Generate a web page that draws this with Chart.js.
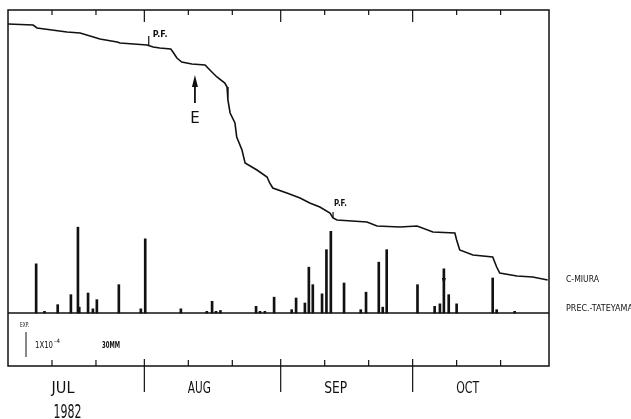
<!DOCTYPE html>
<html lang="en">
<head>
<meta charset="UTF-8">
<title>C-MIURA / PREC.-TATEYAMA 1982</title>
<script src="https://cdn.jsdelivr.net/npm/chart.js"></script>
<style>
    body { margin: 0; background: #fff; }
    canvas { display: block; }
</style>
</head>
<body>
<canvas id="grafico" width="631" height="419"></canvas>
<script>
    // days counted from the start of 1 Jul 1982
    var diasCurva = [0, 5.7, 6.6, 13.4, 16.4, 20.9, 24.8, 25.5, 31.6, 33.0, 34.5, 37.0, 37.5, 38.4, 39.5,
        41.8, 44.8, 45.9, 47.5, 49.3, 49.8, 50.0, 50.5, 51.6, 52.0, 53.2, 53.9, 56.6, 58.9, 59.5,
        60.2, 63.4, 66.4, 68.6, 70.9, 73.2, 73.9, 74.8, 81.6, 83.9, 89.1, 93.0, 96.6, 101.6, 102.0,
        102.7, 105.7, 110.2, 111.1, 111.8, 115.7, 119.3, 122.7];
    // strain C-MIURA, units of 1x10^-4 (EXP. upward), relative to 1 Jul
    var deformacao = [0, -0.04, -0.16, -0.32, -0.36, -0.60, -0.72, -0.76, -0.84, -0.92, -0.96, -1.00, -1.12, -1.36, -1.52,
        -1.60, -1.64, -1.84, -2.12, -2.36, -2.52, -3.04, -3.56, -3.96, -4.52, -5.04, -5.56, -5.84, -6.12, -6.36,
        -6.56, -6.76, -6.96, -7.16, -7.32, -7.56, -7.76, -7.84, -7.92, -8.08, -8.12, -8.08, -8.32, -8.36, -8.64,
        -9.04, -9.24, -9.32, -9.72, -9.96, -10.08, -10.12, -10.24];

    // daily precipitation at Tateyama (mm)
    var diasChuva = [6.4, 8.3, 11.3, 14.3, 15.9, 16.2, 18.2, 19.3, 20.2, 25.2, 30.2, 31.2, 39.3, 45.2, 46.4,
        47.3, 48.3, 56.4, 57.3, 58.4, 60.5, 64.5, 65.5, 67.5, 68.4, 69.3, 71.4, 72.4, 73.4, 76.4,
        80.2, 81.4, 84.3, 85.2, 86.1, 93.1, 97.0, 98.2, 99.1, 100.2, 102.0, 110.2, 111.1, 115.2];
    var chuva = [59, 2, 10, 22, 103, 7, 24, 5, 16, 34, 5, 89, 5, 2, 14,
        2, 3, 8, 2, 2, 19, 4, 18, 12, 55, 34, 23, 76, 98, 36,
        4, 25, 61, 7, 76, 34, 8, 11, 53, 22, 11, 42, 4, 2];

    var meses = ['JUL', 'AUG', 'SEP', 'OCT'];
    var inicioMes = [0, 31, 62, 92, 123];
    var marcasDias = [10, 20, 41, 51, 72, 82, 102, 112];
    var ano = '1982';

    // P.F. marks on the strain curve and the event arrow E
    var diasPF = [32.0, 73.9];
    var diaE = 42.5;

    var pontosCurva = [];
    for (var i = 0; i < diasCurva.length; i++) {
        pontosCurva.push({ x: diasCurva[i], y: deformacao[i] });
    }
    var pontosChuva = [];
    for (var j = 0; j < diasChuva.length; j++) {
        pontosChuva.push({ x: diasChuva[j], y: chuva[j] });
    }

    function linha(ctx, x1, y1, x2, y2) {
        ctx.beginPath();
        ctx.moveTo(x1, y1);
        ctx.lineTo(x2, y2);
        ctx.stroke();
    }

    function texto(ctx, t, x, y, fonte, largura, alinha) {
        ctx.font = fonte;
        ctx.textAlign = alinha || 'left';
        ctx.fillText(t, x, y, largura);
    }

    var desenhoFigura = {
        id: 'desenhoFigura',
        afterDraw: function (chart) {
            var ctx = chart.ctx;
            var a = chart.chartArea;
            var sx = chart.scales.x;
            var sp = chart.scales.yP;
            var ss = chart.scales.yS;
            var fam = '"DejaVu Sans", sans-serif';

            ctx.save();
            ctx.strokeStyle = '#111';
            ctx.fillStyle = '#111';
            ctx.lineWidth = 1.5;

            // frame and precipitation baseline
            ctx.strokeRect(a.left, a.top, a.right - a.left, a.bottom - a.top);
            var base = sp.getPixelForValue(0);
            linha(ctx, a.left, base, a.right, base);

            // ten-day ticks, top and bottom of the frame
            ctx.lineWidth = 1.2;
            marcasDias.forEach(function (d) {
                var x = sx.getPixelForValue(d);
                linha(ctx, x, a.top, x, a.top + 5);
                linha(ctx, x, a.bottom, x, a.bottom - 6);
            });
            // month boundaries
            for (var m = 1; m < inicioMes.length - 1; m++) {
                var xm = sx.getPixelForValue(inicioMes[m]);
                linha(ctx, xm, a.top, xm, a.top + 12);
                linha(ctx, xm, a.bottom - 7, xm, a.bottom + 26);
            }

            // month labels and year
            for (var k = 0; k < meses.length; k++) {
                var xl = sx.getPixelForValue(inicioMes[k] + 12.5);
                texto(ctx, meses[k], xl, a.bottom + 27, '15px ' + fam, 23, 'center');
            }
            texto(ctx, ano, sx.getPixelForValue(13.5), a.bottom + 52, '19px ' + fam, 28, 'center');

            // series names on the right
            texto(ctx, 'C-MIURA', a.right + 17, 282, '8px ' + fam, 33);
            texto(ctx, 'PREC.-TATEYAMA', a.right + 17, base - 2, '8px ' + fam, 68);

            // scale key in the lower box
            var unidade = ss.getPixelForValue(0) - ss.getPixelForValue(1);
            texto(ctx, 'EXP.', a.left + 12, base + 14, '7px ' + fam, 9);
            ctx.lineWidth = 1;
            linha(ctx, a.left + 18, a.bottom - 9 - unidade, a.left + 18, a.bottom - 9);
            texto(ctx, '1X10', a.left + 27, base + 35, '8px ' + fam, 18);
            texto(ctx, '-4', a.left + 46, base + 30, '6px ' + fam, 7);
            texto(ctx, '30MM', a.left + 94, base + 35, 'bold 8px ' + fam, 18);

            // P.F. marks
            ctx.lineWidth = 1.2;
            var x1 = sx.getPixelForValue(diasPF[0]);
            var y1 = ss.getPixelForValue(-0.84);
            linha(ctx, x1, y1, x1, y1 - 9);
            texto(ctx, 'P.F.', x1 + 4, y1 - 8, 'bold 8px ' + fam, 15);
            var x2 = sx.getPixelForValue(diasPF[1]);
            var y2 = ss.getPixelForValue(-7.76);
            linha(ctx, x2, y2 - 6, x2, y2);
            texto(ctx, 'P.F.', x2 + 1, y2 - 12, 'bold 8px ' + fam, 13);

            // event arrow E
            var xe = sx.getPixelForValue(diaE);
            ctx.lineWidth = 1.8;
            linha(ctx, xe, 84, xe, 103);
            ctx.beginPath();
            ctx.moveTo(xe, 75);
            ctx.lineTo(xe - 3, 87);
            ctx.lineTo(xe + 3, 87);
            ctx.closePath();
            ctx.fill();
            texto(ctx, 'E', xe, 123, '15px ' + fam, 11, 'center');

            // small mark on the 8 Oct bar
            var xa = sx.getPixelForValue(99.1);
            ctx.beginPath();
            ctx.moveTo(xa - 2, 278);
            ctx.lineTo(xa + 2, 278);
            ctx.lineTo(xa, 285);
            ctx.closePath();
            ctx.fill();

            ctx.restore();
        }
    };

    new Chart(document.getElementById('grafico'), {
        type: 'bar',
        data: {
            datasets: [{
                type: 'line',
                label: 'C-MIURA',
                data: pontosCurva,
                xAxisID: 'x',
                yAxisID: 'yS',
                borderColor: '#111',
                borderWidth: 1.6,
                pointRadius: 0,
                fill: false,
                tension: 0
            }, {
                type: 'bar',
                label: 'PREC.-TATEYAMA',
                data: pontosChuva,
                xAxisID: 'x',
                yAxisID: 'yP',
                backgroundColor: '#111',
                borderWidth: 0,
                barThickness: 2,
                grouped: false
            }]
        },
        options: {
            responsive: false,
            animation: false,
            events: [],
            layout: { padding: { left: 8, top: 10, right: 82, bottom: 53 } },
            plugins: {
                legend: { display: false },
                tooltip: { enabled: false }
            },
            scales: {
                x: { type: 'linear', min: 0, max: 123, offset: false, display: false },
                yS: { type: 'linear', min: -13.68, max: 0.56, display: false },
                yP: { type: 'linear', min: -63.6, max: 363.6, display: false }
            }
        },
        plugins: [desenhoFigura]
    });
</script>
</body>
</html>
